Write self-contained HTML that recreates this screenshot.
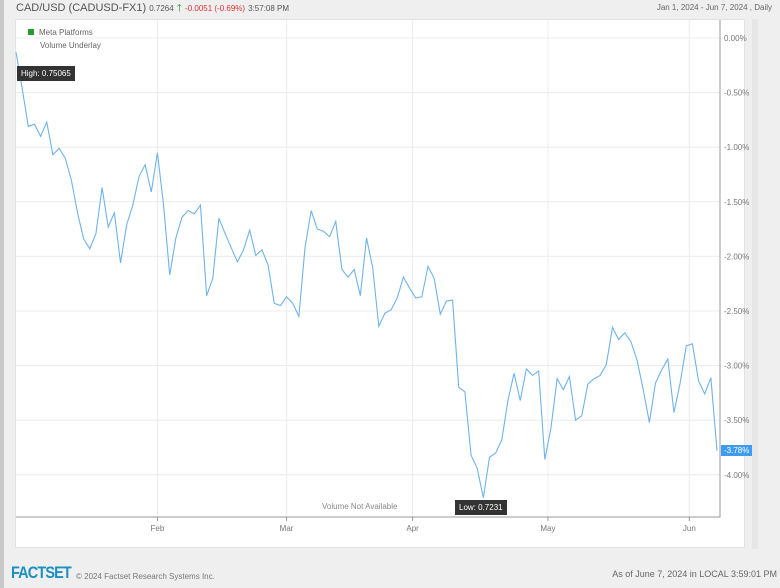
<!DOCTYPE html>
<html><head><meta charset="utf-8"><style>
body{margin:0;width:780px;height:588px;background:#efefef;font-family:"Liberation Sans",sans-serif;overflow:hidden;position:relative}
.t{position:absolute;white-space:nowrap}
</style></head><body>
<div class="t" style="left:0;top:0;width:4px;height:588px;background:#c9c9c9"></div>
<div class="t" style="left:16px;top:1px;font-size:11px;color:#555">CAD/USD (CADUSD-FX1) <span style="font-size:8px">0.7264</span> <span style="color:#2a8a2a;font-size:10px">🡑</span> <span style="color:#d33;font-size:8px">-0.0051 (-0.69%)</span> <span style="font-size:8px">3:57:08 PM</span></div>
<div class="t" style="right:8px;top:3px;font-size:8px;color:#666">Jan 1, 2024 - Jun 7, 2024 , Daily</div>
<div class="t" style="left:15px;top:19px;width:728px;height:527px;background:#fff;border:1px solid #e2e2e2"></div>
<div class="t" style="left:752px;top:19px;width:6px;height:530px;background:#e6e6e6"></div>
<svg class="t" style="left:0;top:0" width="780" height="588" id="c"></svg>
<div class="t" style="left:28px;top:28px;font-size:8px;color:#666"><span style="display:inline-block;width:6px;height:6px;background:#2e9a2e;margin-right:5px"></span>Meta Platforms</div>
<div class="t" style="left:40px;top:41px;font-size:8px;color:#666">Volume Underlay</div>
<div class="t" style="left:322px;top:502px;font-size:8px;color:#888">Volume Not Available</div>
<div class="t" style="left:17px;top:66px;background:#333;color:#fff;font-size:8px;padding:3px 4px">High: 0.75065</div>
<div class="t" style="left:455px;top:500px;background:#333;color:#fff;font-size:8px;padding:3px 4px">Low: 0.7231</div>
<div class="t" style="left:721px;top:445px;background:#3d9bf0;color:#fff;font-size:8px;padding:1px 3px">-3.78%</div>
<div class="t" style="left:11px;top:563px;font-size:17px;font-weight:bold;color:#1b8fc2;letter-spacing:-1px;transform:scaleX(0.85);transform-origin:left">FACTSET</div>
<div class="t" style="left:76px;top:572px;font-size:8px;color:#777">© 2024 Factset Research Systems Inc.</div>
<div class="t" style="right:3px;top:569px;font-size:9px;color:#666">As of June 7, 2024 in LOCAL 3:59:01 PM</div>
<script>
const values=[0.13,0.46,0.81,0.79,0.90,0.77,1.07,1.01,1.10,1.30,1.60,1.84,1.93,1.79,1.37,1.73,1.60,2.06,1.71,1.53,1.27,1.16,1.41,1.05,1.53,2.17,1.83,1.64,1.58,1.61,1.53,2.36,2.20,1.65,1.79,1.92,2.05,1.94,1.76,1.99,1.94,2.08,2.43,2.45,2.37,2.43,2.55,1.92,1.58,1.75,1.77,1.82,1.68,2.12,2.19,2.12,2.36,1.83,2.10,2.64,2.52,2.49,2.38,2.19,2.29,2.38,2.37,2.09,2.20,2.53,2.41,2.40,3.20,3.24,3.82,3.94,4.21,3.84,3.80,3.68,3.32,3.07,3.32,3.03,3.09,3.05,3.86,3.57,3.12,3.22,3.10,3.50,3.46,3.17,3.12,3.09,2.99,2.65,2.76,2.70,2.78,2.95,3.22,3.52,3.16,3.04,2.94,3.43,3.16,2.82,2.80,3.14,3.26,3.11,3.78].map(v=>-v);
const yTicks=[0,-0.5,-1,-1.5,-2,-2.5,-3,-3.5,-4];
const yTickLabels=["0.00%","-0.50%","-1.00%","-1.50%","-2.00%","-2.50%","-3.00%","-3.50%","-4.00%"];
const monthIdx=[23,44,64.5,86.5,109.5];
const monthLabels=["Feb","Mar","Apr","May","Jun"];
const X=i=>16+i*(701/114), Y=v=>38-v*109.2;
const s=document.getElementById('c'),NS="http://www.w3.org/2000/svg";
function el(t,a){const e=document.createElementNS(NS,t);for(const k in a)e.setAttribute(k,a[k]);s.appendChild(e);return e;}
yTicks.forEach((v,i)=>{
 const g=el('line',{x1:16,x2:720,y1:Y(v),y2:Y(v),stroke:'#ececec'});
 
 
 const t=el('text',{x:724,y:Y(v)+3,'font-size':8,fill:'#777','font-family':'Liberation Sans'});
 t.textContent=yTickLabels[i];
 
 
});
monthIdx.forEach((m,i)=>{
 const g=el('line',{x1:X(m),x2:X(m),y1:20,y2:517,stroke:'#ececec'});
 
 
 const k=el('line',{x1:X(m),x2:X(m),y1:517,y2:521,stroke:'#999'});
 
 
 const t=el('text',{x:X(m),y:531,'font-size':8,fill:'#777','text-anchor':'middle','font-family':'Liberation Sans'});
 t.textContent=monthLabels[i];
 
 
});
const ax=el('path',{d:'M16 517H720V20',fill:'none',stroke:'#999'});


const ln=el('polyline',{points:values.map((v,i)=>X(i)+','+Y(v)).join(' '),fill:'none',stroke:'#6fb3ea','stroke-width':1.1});


</script>
</body></html>
